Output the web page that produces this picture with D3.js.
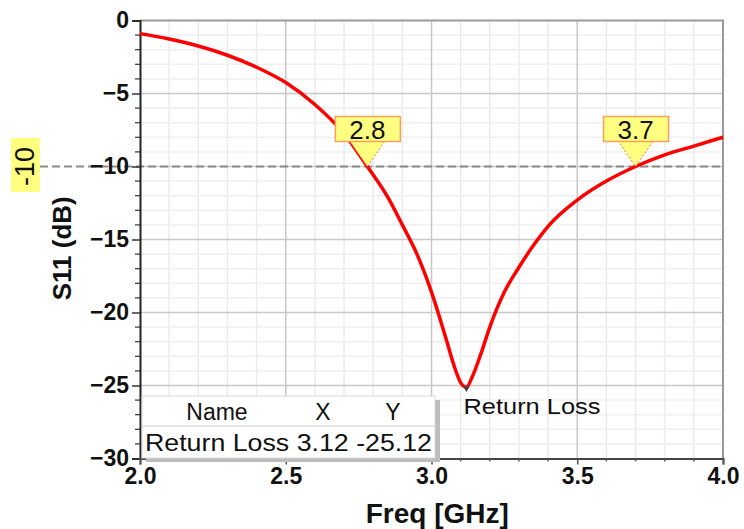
<!DOCTYPE html>
<html>
<head>
<meta charset="utf-8">
<script src="https://cdn.jsdelivr.net/npm/d3@7"></script>
<style>
  body { margin: 0; background: #fff; }
  svg { display: block; font-family: "Liberation Sans", Arial, sans-serif; }
</style>
</head>
<body>
<script>
// S11 curve
const freq = [2.0, 2.1, 2.2, 2.3, 2.4, 2.5, 2.6, 2.7, 2.78, 2.85, 2.9, 2.95, 3.0, 3.05, 3.08, 3.1, 3.12, 3.14, 3.17, 3.2, 3.25, 3.3, 3.35, 3.4, 3.5, 3.6, 3.7, 3.8, 3.9, 4.0];
const s11 = [-0.9, -1.27, -1.75, -2.38, -3.2, -4.25, -5.75, -7.75, -10.0, -12.1, -14.0, -16.0, -18.6, -21.8, -23.8, -24.8, -25.12, -24.4, -22.8, -21.0, -18.6, -16.9, -15.4, -14.1, -12.3, -11.0, -10.0, -9.2, -8.6, -8.0];

const xTicks = [2.0, 2.5, 3.0, 3.5, 4.0];
const yTicks = [0, -5, -10, -15, -20, -25, -30];
const threshold = -10;
const markerFreqs = [2.78, 3.70];
const markerLabels = ['2.8', '3.7'];
const tableHeader = ['Name', 'X', 'Y'];
const tableRow = ['Return Loss', '3.12', '-25.12'];
const dip = {f: 3.12, v: -25.12};

const W = 744, H = 529;
const margin = {top: 20.5, right: 21, bottom: 70.5, left: 140};
const FONT = '"Liberation Sans", Arial, sans-serif';

const svg = d3.select('body').append('svg')
  .attr('width', W)
  .attr('height', H);

const x = d3.scaleLinear().domain([2, 4]).range([margin.left, W - margin.right]);
const y = d3.scaleLinear().domain([-30, 0]).range([H - margin.bottom, margin.top]);

// grid
const minorX = d3.range(2.1, 4.0, 0.1).map(v => +v.toFixed(1)).filter(d => !xTicks.includes(d));
const minorY = d3.range(-29, 0, 1).filter(d => d % 5 !== 0);
const g = svg.append('g');
g.selectAll('.vmin').data(minorX)
  .enter().append('line')
  .attr('x1', d => x(d)).attr('x2', d => x(d))
  .attr('y1', y(0)).attr('y2', y(-30))
  .attr('stroke', '#ebebeb').attr('stroke-width', 1.5);
g.selectAll('.hmin').data(minorY)
  .enter().append('line')
  .attr('x1', x(2)).attr('x2', x(4))
  .attr('y1', d => y(d)).attr('y2', d => y(d))
  .attr('stroke', '#efefef').attr('stroke-width', 1.5);
g.selectAll('.vmaj').data(xTicks.slice(1, -1))
  .enter().append('line')
  .attr('x1', d => x(d)).attr('x2', d => x(d))
  .attr('y1', y(0)).attr('y2', y(-30))
  .attr('stroke', '#c8c8c8').attr('stroke-width', 1.5);
g.selectAll('.hmaj').data(yTicks.slice(1, -1))
  .enter().append('line')
  .attr('x1', x(2)).attr('x2', x(4))
  .attr('y1', d => y(d)).attr('y2', d => y(d))
  .attr('stroke', '#c8c8c8').attr('stroke-width', 1.5);

// frame top/right
svg.append('path')
  .attr('d', `M${x(2)},${y(0)}H${x(4)}V${y(-30)}`)
  .attr('fill', 'none').attr('stroke', '#9a9a9a').attr('stroke-width', 2);

// -10 dB dashed reference line
svg.append('line')
  .attr('x1', 40).attr('x2', x(4))
  .attr('y1', y(threshold)).attr('y2', y(threshold))
  .attr('stroke', '#8a8a8a').attr('stroke-width', 2)
  .attr('stroke-dasharray', '8,4');

// axes
const yAxis = svg.append('g')
  .attr('transform', `translate(${x(2)},0)`)
  .call(d3.axisLeft(y).tickValues(yTicks).tickSize(8).tickPadding(3).tickFormat(d3.format('d')));
yAxis.select('.domain').attr('stroke', '#222').attr('stroke-width', 2);
yAxis.selectAll('.tick line').attr('stroke', '#333').attr('stroke-width', 1.5);
yAxis.selectAll('.tick text')
  .attr('font-size', 23).attr('font-weight', 'bold').attr('fill', '#111')
  .attr('font-family', FONT);
yAxis.selectAll('.minor').data(minorY)
  .enter().append('line')
  .attr('x1', -5).attr('x2', 0)
  .attr('y1', d => y(d)).attr('y2', d => y(d))
  .attr('stroke', '#333').attr('stroke-width', 1.2);

const xAxis = svg.append('g')
  .attr('transform', `translate(0,${y(-30)})`)
  .call(d3.axisBottom(x).tickValues(xTicks).tickSize(6).tickPadding(3).tickFormat(d3.format('.1f')));
xAxis.select('.domain').attr('stroke', '#444').attr('stroke-width', 2);
xAxis.selectAll('.tick line').attr('stroke', '#555').attr('stroke-width', 1.5);
xAxis.selectAll('.tick text')
  .attr('font-size', 23).attr('font-weight', 'bold').attr('fill', '#111')
  .attr('font-family', FONT);
xAxis.selectAll('.minor').data(minorX)
  .enter().append('line')
  .attr('x1', d => x(d)).attr('x2', d => x(d))
  .attr('y1', 0).attr('y2', 3)
  .attr('stroke', '#555').attr('stroke-width', 1.5);

// axis titles
svg.append('text')
  .attr('transform', `translate(71,${y(-15.6)}) rotate(-90)`)
  .attr('text-anchor', 'middle')
  .attr('font-size', 26).attr('font-weight', 'bold').attr('fill', '#111')
  .text('S11 (dB)');
svg.append('text')
  .attr('x', x(3.02)).attr('y', 523)
  .attr('text-anchor', 'middle')
  .attr('font-size', 28).attr('font-weight', 'bold').attr('fill', '#111')
  .text('Freq [GHz]');

// yellow -10 label on the left
svg.append('rect')
  .attr('x', 11).attr('y', 138).attr('width', 29).attr('height', 54)
  .attr('fill', '#ffff80');
svg.append('text')
  .attr('transform', `translate(34,${y(threshold)}) rotate(-90)`)
  .attr('text-anchor', 'middle')
  .attr('font-size', 27).attr('fill', '#111')
  .text(String(threshold));

// curve
const line = d3.line()
  .x((d, i) => x(freq[i]))
  .y(d => y(d))
  .curve(d3.curveMonotoneX);
svg.append('path')
  .datum(s11)
  .attr('d', line)
  .attr('fill', 'none')
  .attr('stroke', '#ff0000')
  .attr('stroke-width', 3.5);

// marker callouts
const mk = svg.selectAll('.mk').data(markerFreqs)
  .enter().append('g');
mk.append('path')
  .attr('d', d => `M${x(d) - 18},${y(threshold) - 26}L${x(d)},${y(threshold)}L${x(d) + 18},${y(threshold) - 26}Z`)
  .attr('fill', '#ffff80')
  .attr('stroke', '#ff6a4a').attr('stroke-width', 1).attr('stroke-dasharray', '2,2');
mk.append('rect')
  .attr('x', d => x(d) - 32).attr('y', y(threshold) - 50)
  .attr('width', 65).attr('height', 25)
  .attr('fill', '#ffff80')
  .attr('stroke', '#f7a060').attr('stroke-width', 1.5);
mk.append('text')
  .attr('x', d => x(d)).attr('y', y(threshold) - 28)
  .attr('text-anchor', 'middle')
  .attr('font-size', 26).attr('fill', '#111')
  .text((d, i) => markerLabels[i]);

// dip marker + label
svg.append('path')
  .attr('d', d3.symbol(d3.symbolTriangle, 18)())
  .attr('transform', `translate(${x(dip.f)},${y(dip.v) + 1}) rotate(180)`)
  .attr('fill', '#444');
svg.append('text')
  .attr('x', x(dip.f) - 3).attr('y', y(dip.v) + 27)
  .attr('font-size', 22).attr('fill', '#111')
  .attr('textLength', 137).attr('lengthAdjust', 'spacingAndGlyphs')
  .text('Return Loss');

// data table
const tb = svg.append('g');
tb.append('rect')
  .attr('x', 146).attr('y', 400).attr('width', 294).attr('height', 62)
  .attr('fill', '#bdbdbd');
tb.append('rect')
  .attr('x', 142).attr('y', 396).attr('width', 293).attr('height', 62)
  .attr('fill', '#fff').attr('stroke', '#d8d8d8').attr('stroke-width', 1);
tb.append('line')
  .attr('x1', 142).attr('x2', 435).attr('y1', 426).attr('y2', 426)
  .attr('stroke', '#dcdcdc').attr('stroke-width', 1.5);
const headX = [217, 323, 393];
tb.selectAll('.hd').data(tableHeader).enter().append('text')
  .attr('x', (d, i) => headX[i]).attr('y', 420)
  .attr('text-anchor', 'middle')
  .attr('font-size', 23).attr('fill', '#111')
  .text(d => d);
tb.append('text')
  .attr('x', 145).attr('y', 451)
  .attr('font-size', 23).attr('fill', '#111')
  .attr('textLength', 287).attr('lengthAdjust', 'spacingAndGlyphs')
  .text(tableRow.join(' '));
</script>
</body>
</html>
